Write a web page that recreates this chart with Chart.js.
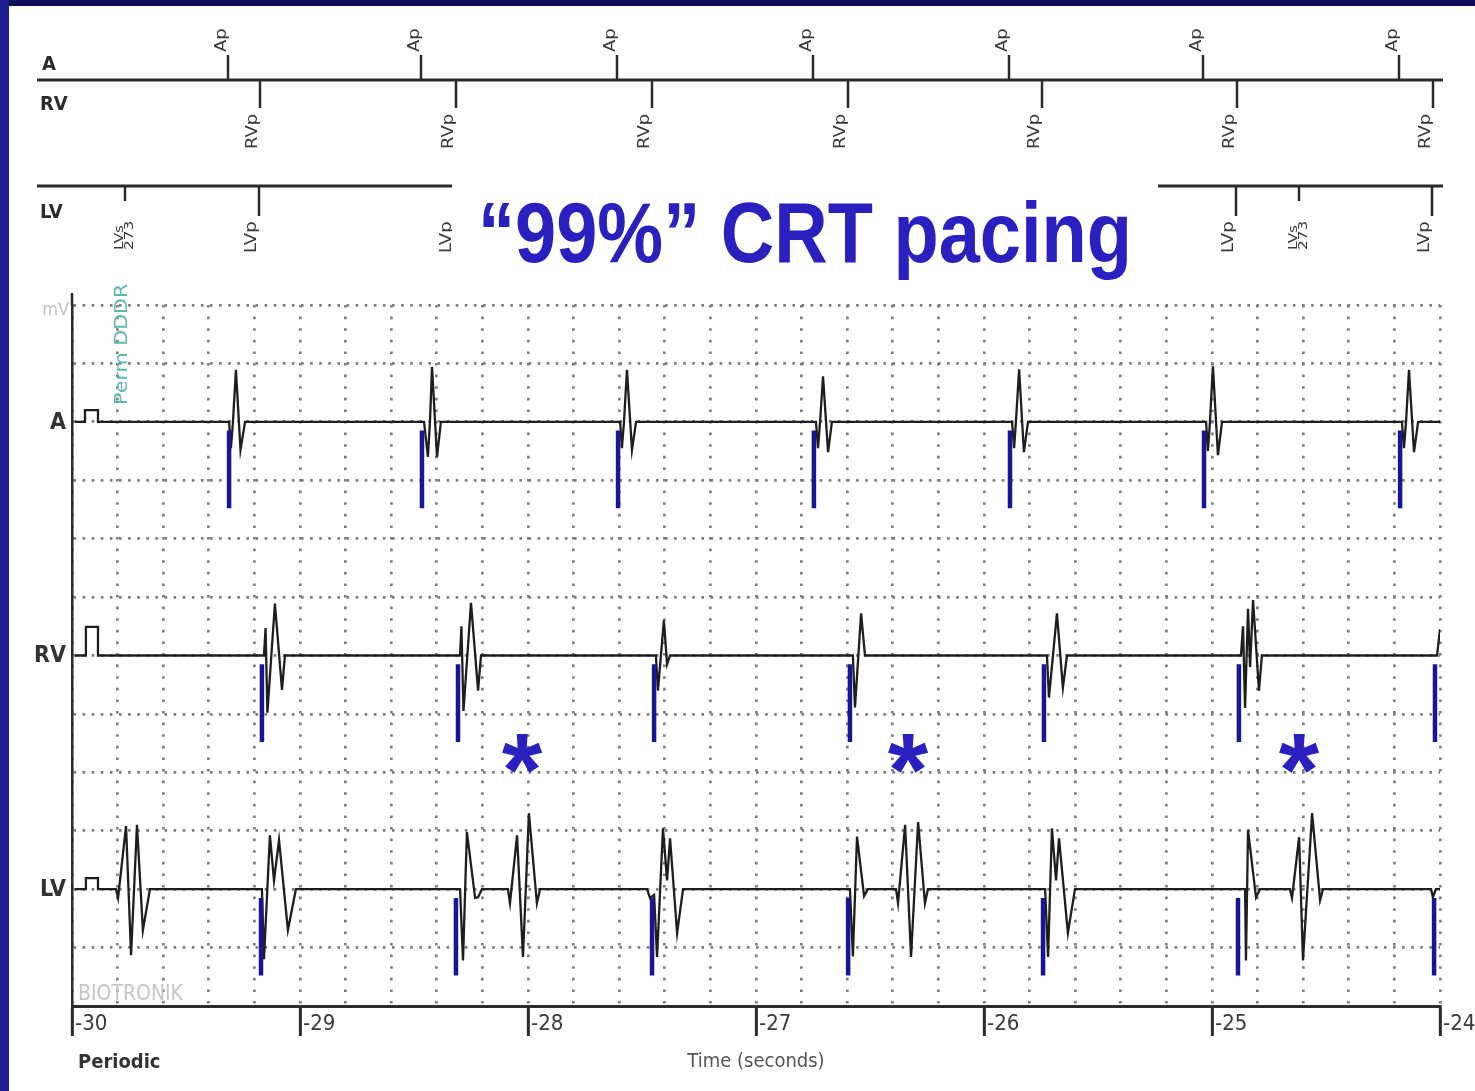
<!DOCTYPE html>
<html>
<head>
<meta charset="utf-8">
<script src="https://cdn.jsdelivr.net/npm/chart.js@4.4.1/dist/chart.umd.min.js"></script>
<style>
  html, body { margin: 0; padding: 0; background: #fff; }
  #wrap { position: relative; width: 1475px; height: 1091px; }
</style>
</head>
<body>
<div id="wrap"><canvas id="egm" width="1475" height="1091"></canvas></div>
<script>
// time window (seconds before the snapshot)
const xMin = -30, xMax = -24;
const xTickLabels = ['-30', '-29', '-28', '-27', '-26', '-25', '-24'];

// device events, seconds
const apTimes  = [-29.311, -28.465, -27.605, -26.746, -25.886, -25.035, -24.175];
const rvpTimes = [-29.167, -28.307, -27.447, -26.588, -25.737, -24.882, -24.022];
const lvpTimes = [-29.171, -28.316, -27.456, -26.596, -25.741, -24.886, -24.026];
const lvsTimes = [-29.768, -28.048, -26.338, -24.618];
const lvsInterval = '273';
const asteriskTimes = [-28.026, -26.333, -24.618];

// EGM traces: [time s, amplitude in grid units from baseline]
const aTrace = [
  [-29.987, 0], [-29.943, 0], [-29.943, 0.2], [-29.886, 0.2], [-29.886, 0],
  [-29.311, 0], [-29.303, -0.45], [-29.294, 0], [-29.281, 0.89], [-29.261, -0.48], [-29.241, 0],
  [-28.456, 0], [-28.439, -0.6], [-28.430, 0], [-28.421, 0.94], [-28.399, -0.6], [-28.382, 0],
  [-27.596, 0], [-27.588, -0.45], [-27.579, 0], [-27.566, 0.89], [-27.544, -0.48], [-27.526, 0],
  [-26.737, 0], [-26.728, -0.45], [-26.719, 0], [-26.706, 0.78], [-26.684, -0.52], [-26.667, 0],
  [-25.877, 0], [-25.868, -0.45], [-25.860, 0], [-25.846, 0.9], [-25.825, -0.52], [-25.807, 0],
  [-25.026, 0], [-25.018, -0.5], [-25.009, 0], [-24.996, 0.95], [-24.974, -0.57], [-24.956, 0],
  [-24.167, 0], [-24.158, -0.45], [-24.149, 0], [-24.136, 0.89], [-24.114, -0.52], [-24.096, 0],
  [-24.0, 0]
];
const rvTrace = [
  [-29.987, 0], [-29.939, 0], [-29.939, 0.49], [-29.886, 0.49], [-29.886, 0],
  [-29.158, 0], [-29.151, 0.47], [-29.143, -0.98], [-29.110, 0.89], [-29.079, -0.59], [-29.066, 0],
  [-28.298, 0], [-28.292, 0.5], [-28.283, -0.95], [-28.250, 0.9], [-28.219, -0.6], [-28.206, 0],
  [-27.439, 0], [-27.430, -0.6], [-27.404, 0.6], [-27.390, -0.15], [-27.377, 0],
  [-26.575, 0], [-26.566, -0.89], [-26.539, 0.72], [-26.522, 0],
  [-25.724, 0], [-25.715, -0.72], [-25.680, 0.72], [-25.654, -0.55], [-25.636, 0],
  [-24.873, 0], [-24.864, 0.5], [-24.855, -0.9], [-24.842, 0.8], [-24.833, -0.2], [-24.820, 0.95], [-24.794, -0.6], [-24.781, 0],
  [-24.013, 0], [-24.0, 0.45]
];
const lvTrace = [
  [-29.987, 0], [-29.939, 0], [-29.939, 0.19], [-29.886, 0.19], [-29.886, 0],
  [-29.807, 0], [-29.798, -0.15], [-29.763, 1.08], [-29.741, -1.13], [-29.715, 1.1], [-29.689, -0.7], [-29.658, 0],
  [-29.167, 0], [-29.158, -1.2], [-29.132, 0.92], [-29.114, 0.15], [-29.092, 0.84], [-29.053, -0.7], [-29.018, 0],
  [-28.307, 0], [-28.298, 0], [-28.285, -1.22], [-28.268, 0.98], [-28.232, -0.15], [-28.219, -0.14], [-28.202, 0],
  [-28.088, 0], [-28.079, -0.24], [-28.048, 0.92], [-28.022, -1.16], [-27.996, 1.3], [-27.961, -0.24], [-27.947, 0],
  [-27.478, 0], [-27.465, -0.15], [-27.447, -0.1], [-27.434, -1.16], [-27.408, 1.04], [-27.390, 0.15], [-27.377, 0.87], [-27.346, -0.75], [-27.320, 0],
  [-26.588, 0], [-26.575, -1.15], [-26.557, 0.9], [-26.526, -0.12], [-26.509, 0],
  [-26.386, 0], [-26.377, -0.24], [-26.346, 1.1], [-26.320, -1.16], [-26.289, 1.15], [-26.259, -0.24], [-26.246, 0],
  [-25.732, 0], [-25.719, -1.16], [-25.702, 1.04], [-25.684, 0.15], [-25.671, 0.87], [-25.632, -0.75], [-25.601, 0],
  [-24.877, 0], [-24.855, 0], [-24.851, -1.22], [-24.842, 1.01], [-24.807, -0.14], [-24.789, 0],
  [-24.658, 0], [-24.649, -0.15], [-24.618, 0.89], [-24.601, -1.22], [-24.561, 1.3], [-24.526, -0.19], [-24.513, 0],
  [-24.039, 0], [-24.031, -0.14], [-24.018, 0], [-24.0, 0]
];

const channels = [
  { label: 'A',  trace: aTrace,  paces: apTimes,  level: 10 },
  { label: 'RV', trace: rvTrace, paces: rvpTimes, level: 6 },
  { label: 'LV', trace: lvTrace, paces: lvpTimes, level: 2 }
];

const PACE_TOP = -0.15, PACE_BOTTOM = -1.48;   // pace spike span below baseline
const ASTERISK_LEVEL = 4.33;
const COND = '"DejaVu Sans Condensed", "Liberation Sans Narrow", "DejaVu Sans", sans-serif';
const TITLE_BLUE = '#2a20c0';
const INK = '#2b2b2b';
const GRID = '#7e7e7e';

// pace markers first so they draw over the traces
const datasets = [];
channels.forEach(ch => {
    datasets.push({
        data: ch.paces.flatMap(t => [
            { x: t, y: ch.level + PACE_TOP },
            { x: t, y: ch.level + PACE_BOTTOM },
            { x: t, y: null }
        ]),
        showLine: true, borderColor: '#161696', borderWidth: 4.5,
        pointRadius: 0, spanGaps: false, borderCapStyle: 'butt'
    });
});
channels.forEach(ch => {
    datasets.push({
        data: ch.trace.map(p => ({ x: p[0], y: ch.level + p[1] })),
        showLine: true, borderColor: '#1e1e1e', borderWidth: 2.3,
        pointRadius: 0, tension: 0, borderJoinStyle: 'miter'
    });
});

// vertical text reading upwards, squeezed across like the device print-out
function vText(ctx, text, x, y, font, color, squeeze) {
    ctx.save();
    ctx.translate(x, y);
    ctx.rotate(-Math.PI / 2);
    ctx.scale(1, squeeze || 1);
    ctx.font = font; ctx.fillStyle = color;
    ctx.textAlign = 'left'; ctx.textBaseline = 'alphabetic';
    ctx.fillText(text, 0, 0);
    ctx.restore();
}
function seg(ctx, x1, y1, x2, y2) {
    ctx.beginPath(); ctx.moveTo(x1, y1); ctx.lineTo(x2, y2); ctx.stroke();
}

const egmDecor = {
    id: 'egmDecor',
    beforeDraw(chart) {
        const ctx = chart.ctx;
        ctx.save();
        ctx.fillStyle = '#fff';
        ctx.fillRect(0, 0, chart.width, chart.height);
        ctx.fillStyle = '#10105a';
        ctx.fillRect(0, 0, chart.width, 6);
        ctx.fillStyle = '#1c1c90';
        ctx.fillRect(0, 0, 9, chart.height);
        ctx.restore();
    },
    afterDraw(chart) {
        const { ctx, chartArea } = chart;
        const xs = chart.scales.x, ys = chart.scales.y;
        ctx.save();

        // marker channel strip
        ctx.strokeStyle = INK; ctx.lineWidth = 3;
        seg(ctx, 37, 80, 1443, 80);
        seg(ctx, 37, 186, 1443, 186);
        ctx.font = 'bold 20px ' + COND; ctx.fillStyle = INK; ctx.textAlign = 'left';
        ctx.fillText('A', 42, 70);
        ctx.fillText('RV', 40, 110);
        ctx.fillText('LV', 40, 218);

        ctx.lineWidth = 2.5;
        const mFont = '20px ' + COND, mInk = '#3a3a3a';
        apTimes.forEach(t => {
            const px = Math.round(xs.getPixelForValue(t)) - 1;
            seg(ctx, px, 55, px, 80);
            vText(ctx, 'Ap', px - 2, 52, mFont, mInk, 0.8);
        });
        rvpTimes.forEach(t => {
            const px = Math.round(xs.getPixelForValue(t)) - 2;
            seg(ctx, px, 80, px, 108);
            vText(ctx, 'RVp', px - 3, 149, mFont, mInk, 0.8);
        });
        lvpTimes.forEach(t => {
            const px = Math.round(xs.getPixelForValue(t)) - 2;
            seg(ctx, px, 186, px, 216);
            vText(ctx, 'LVp', px - 3, 253, mFont, mInk, 0.8);
        });
        lvsTimes.forEach(t => {
            const px = Math.round(xs.getPixelForValue(t));
            seg(ctx, px, 186, px, 201);
            vText(ctx, 'LVs', px - 2, 250, '17px ' + COND, mInk, 0.7);
            vText(ctx, lvsInterval, px + 8, 250, '17px ' + COND, mInk, 0.7);
        });

        // title block over the marker strip
        ctx.fillStyle = '#fff';
        ctx.fillRect(452, 158, 706, 134);
        const title = '\u201C99%\u201D CRT pacing';
        ctx.font = 'bold 86px "Liberation Sans", Arial, sans-serif';
        const tw = ctx.measureText(title).width;
        ctx.save();
        ctx.translate(478, 262);
        ctx.scale(654 / tw, 1);
        ctx.fillStyle = TITLE_BLUE; ctx.textAlign = 'left'; ctx.textBaseline = 'alphabetic';
        ctx.fillText(title, 0, 0);
        ctx.restore();

        // y axis stub above the grid
        ctx.strokeStyle = INK; ctx.lineWidth = 2.5;
        seg(ctx, chartArea.left, chartArea.top - 12, chartArea.left, chartArea.top);

        // channel names
        ctx.font = 'bold 23px ' + COND; ctx.fillStyle = '#333';
        ctx.textAlign = 'right'; ctx.textBaseline = 'middle';
        channels.forEach(ch => ctx.fillText(ch.label, chartArea.left - 6, ys.getPixelForValue(ch.level) + 1));

        // small captions
        ctx.textBaseline = 'alphabetic';
        ctx.font = '18px ' + COND; ctx.fillStyle = '#c4c4c4';
        ctx.fillText('mV', chartArea.left - 3, 315);
        ctx.textAlign = 'left';
        ctx.font = '21px ' + COND; ctx.fillStyle = '#c6c6c6';
        ctx.fillText('BIOTRONIK', chartArea.left + 6, 1000);
        ctx.font = 'bold 20px ' + COND; ctx.fillStyle = '#333';
        ctx.fillText('Periodic', chartArea.left + 6, 1068);
        vText(ctx, 'Perm DDDR', 127, 405, '23px ' + COND, '#5cb8b0', 0.75);

        // asterisks
        ctx.font = 'bold 104px "Liberation Sans", Arial, sans-serif';
        ctx.fillStyle = TITLE_BLUE; ctx.textAlign = 'center';
        const m = ctx.measureText('*');
        const mid = (m.actualBoundingBoxAscent - m.actualBoundingBoxDescent) / 2;
        asteriskTimes.forEach(t => {
            ctx.fillText('*', xs.getPixelForValue(t), ys.getPixelForValue(ASTERISK_LEVEL) + mid);
        });

        ctx.restore();
    }
};

const isWhole = v => Math.abs(v - Math.round(v)) < 1e-6;

new Chart(document.getElementById('egm'), {
    type: 'scatter',
    data: { datasets },
    options: {
        responsive: false, animation: false, devicePixelRatio: 1,
        layout: { padding: { left: 72, right: 35, top: 305, bottom: 0 } },
        plugins: { legend: { display: false }, tooltip: { enabled: false } },
        scales: {
            x: {
                type: 'linear', min: xMin, max: xMax,
                afterFit: s => { s.height = 85; s.paddingLeft = 0; s.paddingRight = 0; },
                border: { display: true, color: INK, width: 3, dash: [2.6, 9] },
                grid: {
                    color: GRID, lineWidth: 2.7,
                    drawTicks: true, tickLength: 30, tickWidth: 3, tickBorderDash: [],
                    tickColor: c => (c.tick && isWhole(c.tick.value)) ? INK : 'rgba(0,0,0,0)'
                },
                ticks: {
                    stepSize: 0.2, maxTicksLimit: 40, autoSkip: false,
                    maxRotation: 0, minRotation: 0,
                    align: 'start', labelOffset: 3, padding: -25,
                    color: '#3a3a3a', font: { family: COND, size: 22 },
                    callback: v => isWhole(v) ? xTickLabels[Math.round(v - xMin)] : ''
                },
                title: {
                    display: true, text: 'Time (seconds)', color: '#555',
                    font: { family: COND, size: 20 }, padding: { top: 0, bottom: 17 }
                }
            },
            y: {
                type: 'linear', min: 0, max: 12,
                afterFit: s => { s.width = 0; },
                border: { display: true, color: INK, width: 2.5, dash: [2.6, 6.5] },
                grid: {
                    color: c => (c.tick && c.tick.value === 0) ? 'rgba(0,0,0,0)' : GRID,
                    lineWidth: 2.7, drawTicks: false
                },
                ticks: { display: false, stepSize: 1 }
            }
        }
    },
    plugins: [egmDecor]
});
</script>
</body>
</html>
